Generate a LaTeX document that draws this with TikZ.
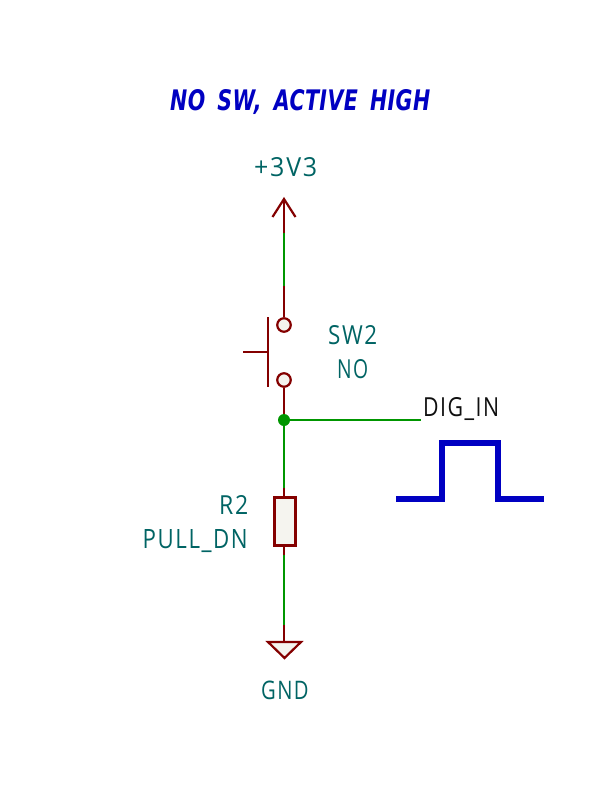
\documentclass[tikz,border=0pt]{standalone}
\usepackage{fontspec}
\setmainfont{Liberation Sans}
\newfontfamily\kfont{Open Sans}[LetterSpace=7]
\newfontfamily\tfont{DejaVu Sans}[LetterSpace=2,WordSpace=1.6]
\definecolor{wirec}{HTML}{009600}
\definecolor{symc}{HTML}{840000}
\definecolor{textc}{HTML}{006464}
\definecolor{notec}{HTML}{0000C2}
\definecolor{creamc}{HTML}{F5F4EF}
\definecolor{labelc}{HTML}{0F0F0F}
\newcommand{\fitt}[3]{\resizebox{#1pt}{#2pt}{#3}}
\tikzset{
  wire/.style={draw=wirec,line width=2pt},
  lead/.style={draw=symc,line width=2.2pt},
  sym/.style={draw=symc,line width=2.2pt,fill=creamc},
  pin/.style={circle,draw=symc,line width=2.2pt,fill=creamc,minimum size=13.5pt,inner sep=0pt},
  body/.style={rectangle,draw=symc,line width=3.2pt,fill=creamc,minimum width=21pt,minimum height=48pt,inner sep=0pt},
  dot/.style={circle,fill=wirec,minimum size=12pt,inner sep=0pt},
  ref/.style={inner sep=0pt,anchor=base west,text=textc},
  netl/.style={inner sep=0pt,anchor=base west,text=labelc},
  titl/.style={inner sep=0pt,anchor=base west,text=notec},
  pulse/.style={draw=notec,line width=5.5pt,line join=miter}
}
\begin{document}
\begin{tikzpicture}[x=1pt,y=-1pt]
\useasboundingbox[fill=white] (0,0) rectangle (600,800);
% text
\node[titl] (title) at (170,110) {\fitt{260}{21}{\tfont\bfseries\itshape NO SW, ACTIVE HIGH}};
\node[ref] (vcc) at (254,176) {\fitt{63}{19}{\kfont +3V3}};
\node[ref] (swref) at (328,344) {\fitt{49}{19}{\kfont SW2}};
\node[ref] (swval) at (337,378) {\fitt{31}{19}{\kfont NO}};
\node[netl] (dig) at (423,416) {\fitt{76}{19}{\kfont DIG\_IN}};
\node[ref] (rref) at (219,514) {\fitt{29}{19}{\kfont R2}};
\node[ref] (rval) at (142.5,548) {\fitt{105}{19}{\kfont PULL\_DN}};
\node[ref] (gnd) at (261,699) {\fitt{47.5}{18.5}{\kfont GND}};
% coordinates
\coordinate (tip) at (284,199);
\coordinate (armL) at (272.5,217);
\coordinate (armR) at (295.5,217);
\coordinate (vccend) at (284,233);
\coordinate (swtop) at (284,286);
\coordinate (swbot) at (284,420);
\coordinate (netend) at (421,420);
\coordinate (rtop) at (284,488);
\coordinate (rbot) at (284,555);
\coordinate (gndtop) at (284,625);
\coordinate (triL) at (268,642);
\coordinate (triR) at (301,642);
\coordinate (triA) at (284.5,658);
\coordinate (barT) at (268,317);
\coordinate (barB) at (268,387);
\coordinate (barM) at (268,352);
\coordinate (hand) at (243,352);
% wires
\draw[wire] (vccend) -- (swtop);
\draw[wire] (swbot) -- (netend);
\draw[wire] (swbot) -- (rtop);
\draw[wire] (rbot) -- (gndtop);
% symbols
\draw[lead] (armL) -- (tip) -- (armR);
\draw[lead] (tip) -- (vccend);
\node[pin] (p1) at (284,325) {};
\node[pin] (p2) at (284,380) {};
\draw[lead] (swtop) -- (p1.north);
\draw[lead] (p2.south) -- (swbot);
\draw[lead] (barT) -- (barB);
\draw[lead] (hand) -- (barM);
\node[dot] (junc) at (swbot) {};
\node[body] (res) at (285,521.5) {};
\draw[lead] (rtop) -- (res.north -| rtop);
\draw[lead] (res.south -| rbot) -- (rbot);
\draw[lead] (gndtop) -- (284,642);
\draw[sym,line join=miter] (triL) -- (triR) -- (triA) -- cycle;
% pulse
\coordinate (a0) at (396,499);
\coordinate (a1) at (442,499);
\coordinate (a2) at (442,443);
\coordinate (a3) at (464.5,443);
\coordinate (a4) at (498,443);
\coordinate (a5) at (498,499);
\coordinate (a6) at (543.5,499);
\draw[pulse] (a0) -- (a1) -- (a2) -- (a3);
\draw[pulse] (a3) -- (a4) -- (a5) -- (a6);
\end{tikzpicture}
\end{document}
